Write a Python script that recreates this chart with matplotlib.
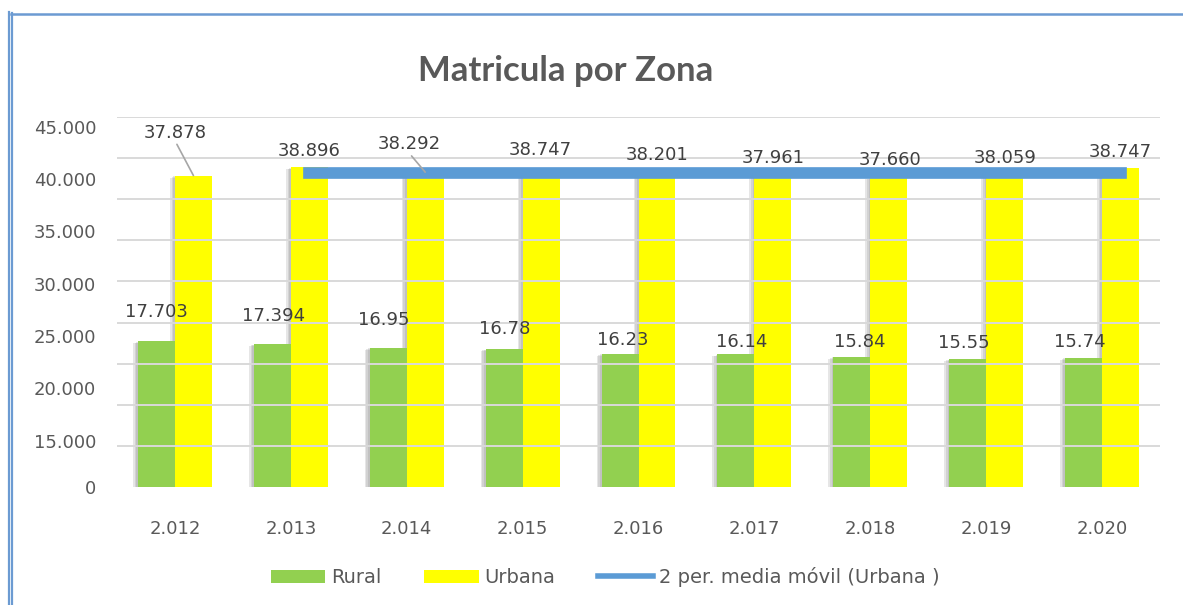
import matplotlib
matplotlib.use("Agg")
import matplotlib.pyplot as plt
import matplotlib.patheffects as pe
from matplotlib import font_manager
from matplotlib.lines import Line2D
from matplotlib.patches import Patch
import numpy as np

# data
years = ["2.012", "2.013", "2.014", "2.015", "2.016", "2.017", "2.018", "2.019", "2.020"]
rural = [17703, 17394, 16950, 16780, 16230, 16140, 15840, 15550, 15740]
urbana = [37878, 38896, 38292, 38747, 38201, 37961, 37660, 38059, 38747]
rural_labels = ["17.703", "17.394", "16.95", "16.78", "16.23", "16.14", "15.84", "15.55", "15.74"]
urbana_labels = ["37.878", "38.896", "38.292", "38.747", "38.201", "37.961", "37.660", "38.059", "38.747"]
# moving average band as drawn (starts at 2.013)
media_movil = [38150, 38150, 38150, 38150, 38150, 38150, 38150, 38150]
ytick_labels = ["0", "15.000", "20.000", "25.000", "30.000", "35.000", "40.000", "45.000"]

# manual label offsets in pixels (dx, dy) relative to bar top
urbana_off = [(-18, 43), (0, 16), (-16, 28), (-1, 18), (0, 17.5), (0, 17), (1.5, 17), (0, 16.5), (0, 16)]
rural_off = [(0, 29), (1, 28), (-4.5, 28), (1, 20), (2.5, 13.5), (5.5, 12), (7.5, 15), (-3.5, 16.5), (-4, 16)]
leader = [True, False, True, False, False, False, False, False, False]

GREEN = "#92D050"
YELLOW = "#FFFF00"
BLUE = "#5B9BD5"
TEXT = "#595959"
LABEL = "#404040"
GRID = "#D9D9D9"

names = {f.name for f in font_manager.fontManager.ttflist}
title_font = next((n for n in ["Lato", "Open Sans"] if n in names), "DejaVu Sans")

plt.rcParams["font.family"] = ["DejaVu Sans"]

fig = plt.figure(figsize=(11.83, 6.05), dpi=100)
ax = fig.add_axes([117 / 1183, 1 - 487 / 605, (1160 - 117) / 1183, (487 - 117) / 605])

x = np.arange(len(years))
w = 0.319

# soft shadow first, then bars on top
shadow_fx = [pe.SimplePatchShadow(offset=(-d, -d * 0.4), shadow_rgbFace="#707070", alpha=0.17)
             for d in (1.2, 2.4, 3.6)]
for xs, vals in ((x - w / 2, rural), (x + w / 2, urbana)):
    sh = ax.bar(xs, vals, w, color="white", zorder=0.5)
    for p in sh:
        p.set_path_effects(shadow_fx)

ax.bar(x - w / 2, rural, w, color=GREEN, zorder=1)
ax.bar(x + w / 2, urbana, w, color=YELLOW, zorder=1)

ax.plot(x[1:] + w / 2, media_movil, color=BLUE, lw=8.4, solid_capstyle="projecting", zorder=3)

for i in range(len(years)):
    dx, dy = urbana_off[i]
    arrow = dict(arrowstyle="-", color="#A6A6A6", lw=1.2, relpos=(0.5, 0), shrinkA=0, shrinkB=0) if leader[i] else None
    ax.annotate(urbana_labels[i], xy=(x[i] + w / 2, urbana[i]), xytext=(dx, dy), textcoords="offset pixels",
                ha="center", va="center", fontsize=13, color=LABEL, arrowprops=arrow, zorder=4)
    dx, dy = rural_off[i]
    ax.annotate(rural_labels[i], xy=(x[i] - w / 2, rural[i]), xytext=(dx, dy), textcoords="offset pixels",
                ha="center", va="center", fontsize=13, color=LABEL, zorder=4)

ax.set_xlim(-0.5, len(years) - 0.5)
ax.set_ylim(0, 45000)
ax.set_xticks(x)
ax.set_xticklabels(years, fontsize=13, color=TEXT)
ax.set_yticks([0] + list(np.linspace(5630, 43800, 7)))
ax.set_yticklabels(ytick_labels, fontsize=13, color=TEXT)
ax.set_yticks(np.arange(0, 45001, 5000), minor=True)
ax.tick_params(axis="both", which="both", length=0)
ax.tick_params(axis="y", pad=15)
ax.tick_params(axis="x", pad=24)
ax.grid(axis="y", which="minor", color=GRID, lw=1.4)
ax.grid(axis="y", which="major", visible=False)
ax.set_axisbelow(False)
for s in ax.spines.values():
    s.set_visible(False)

fig.text(566 / 1183, 1 - 71 / 605, "Matricula por Zona", ha="center", va="center",
         fontsize=25, fontweight="bold", color=TEXT, family=title_font)

handles = [Patch(facecolor=GREEN), Patch(facecolor=YELLOW), Line2D([], [], color=BLUE, lw=4)]
ax.legend(handles, ["Rural", "Urbana", "2 per. media móvil (Urbana )"], loc="center",
          bbox_to_anchor=(605 / 1183, 1 - 577 / 605), bbox_transform=fig.transFigure, ncol=3,
          frameon=False, fontsize=14, handlelength=2.8, handleheight=0.65, handletextpad=0.3,
          columnspacing=2.2, labelcolor=TEXT)

# page border lines
fig.add_artist(Line2D([8.5 / 1183] * 2, [0, 1 - 12 / 605], transform=fig.transFigure, color="#6C9BD2", lw=1.6))
fig.add_artist(Line2D([11.8 / 1183] * 2, [0, 1 - 13 / 605], transform=fig.transFigure, color="#6C9BD2", lw=1.6))
fig.add_artist(Line2D([11 / 1183, 1], [1 - 14 / 605] * 2, transform=fig.transFigure, color="#6C9BD2", lw=1.8))

fig.savefig("out.png", dpi=100)
